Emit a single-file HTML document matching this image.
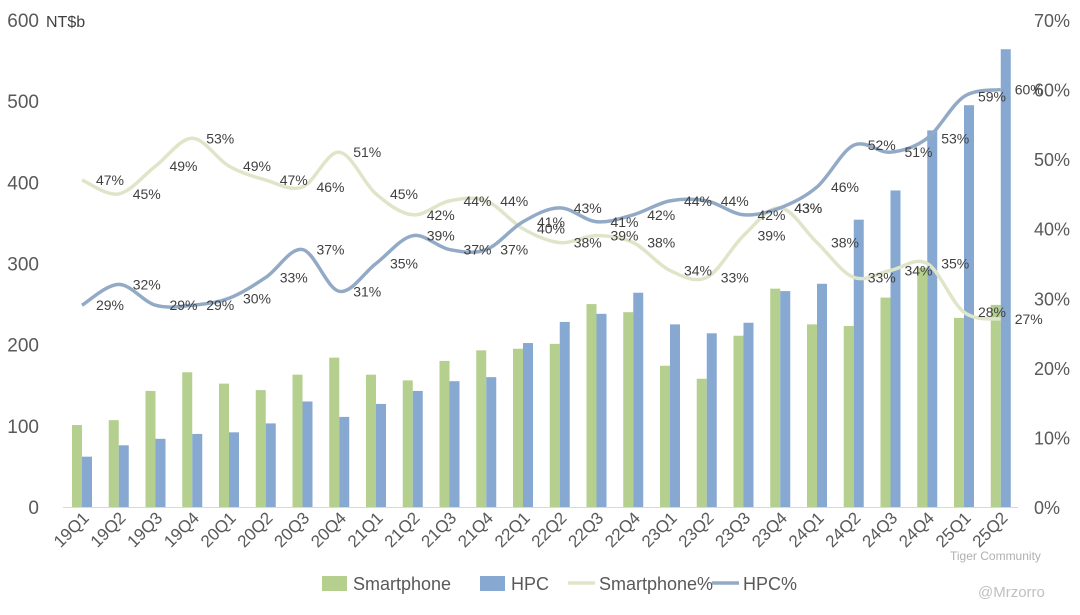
<!DOCTYPE html>
<html><head><meta charset="utf-8"><style>
body{margin:0;background:#fff;}
svg{display:block;font-family:"Liberation Sans",sans-serif;}
</style></head><body>
<svg id="chart" width="1080" height="615"></svg>
<script>
const categories=["19Q1","19Q2","19Q3","19Q4","20Q1","20Q2","20Q3","20Q4","21Q1","21Q2","21Q3","21Q4","22Q1","22Q2","22Q3","22Q4","23Q1","23Q2","23Q3","23Q4","24Q1","24Q2","24Q3","24Q4","25Q1","25Q2"];
const smartphone=[101,107,143,166,152,144,163,184,163,156,180,193,195,201,250,240,174,158,211,269,225,223,258,295,233,249];
const hpc=[62,76,84,90,92,103,130,111,127,143,155,160,202,228,238,264,225,214,227,266,275,354,390,464,495,564];
const smartphonePct=[47,45,49,53,49,47,46,51,45,42,44,44,40,38,39,38,34,33,39,43,38,33,34,35,28,27];
const hpcPct=[29,32,29,29,30,33,37,31,35,39,37,37,41,43,41,42,44,44,42,43,46,52,51,53,59,60];
const leftTicks=[0,100,200,300,400,500,600];
const rightTicks=[0,10,20,30,40,50,60,70];

const svg=document.getElementById('chart');
const NS='http://www.w3.org/2000/svg';
const y0=507,yTop=20;
const yL=v=>y0-v*(y0-yTop)/600;
const yR=v=>y0-v*(y0-yTop)/70;
const xC=i=>82+i*36.75;
function mk(tag,attrs,parent){const e=document.createElementNS(NS,tag);for(const k in attrs)e.setAttribute(k,attrs[k]);(parent||svg).appendChild(e);return e;}

let ax=mk('line',{x1:63,x2:1018,y1:y0+0.5,y2:y0+0.5,stroke:'#d9d9d9','stroke-width':1});



leftTicks.forEach(t=>{
  const e=mk('text',{x:39,y:yL(t)+7,'font-size':19,fill:'#595959','text-anchor':'end'});e.textContent=t;
  
  
});
rightTicks.forEach(t=>{
  const e=mk('text',{x:1034,y:yR(t)+7,'font-size':18,fill:'#595959'});e.textContent=t+'%';
  
  
});
let unit=mk('text',{x:46,y:27,'font-size':16,fill:'#404040'});unit.textContent='NT$b';



categories.forEach((c,i)=>{
  const x=xC(i);
  const g=mk('rect',{x:x-10,y:yL(smartphone[i]),width:10,height:y0-yL(smartphone[i]),fill:'#b4cf8e'});
  
  
  const b=mk('rect',{x:x,y:yL(hpc[i]),width:10,height:y0-yL(hpc[i]),fill:'#86a8d1'});
  
  
  const t=mk('text',{x:x+8,y:519,'font-size':17,fill:'#595959','text-anchor':'end',transform:`rotate(-45 ${x+8} 519)`});
  t.textContent=c;
  
  
});

function smooth(pts){
  let d=`M${pts[0][0]},${pts[0][1]}`;
  for(let i=0;i<pts.length-1;i++){
    const p0=pts[i-1]||pts[i],p1=pts[i],p2=pts[i+1],p3=pts[i+2]||p2;
    const c1=[p1[0]+(p2[0]-p0[0])/6,p1[1]+(p2[1]-p0[1])/6];
    const c2=[p2[0]-(p3[0]-p1[0])/6,p2[1]-(p3[1]-p1[1])/6];
    d+=` C${c1[0]},${c1[1]} ${c2[0]},${c2[1]} ${p2[0]},${p2[1]}`;
  }
  return d;
}
function series(vals,color,name){
  const pts=vals.map((v,i)=>[xC(i),yR(v)]);
  const p=mk('path',{d:smooth(pts),fill:'none',stroke:color,'stroke-width':3.5});
  
  
  vals.forEach((v,i)=>{
    const t=mk('text',{x:xC(i)+28,y:yR(v)+5,'font-size':14,fill:'#404040','text-anchor':'middle'});
    t.textContent=v+'%';
    
    
  });
}
series(smartphonePct,'#dfe5c9','smartphone-pct');
series(hpcPct,'#93aac6','hpc-pct');

const lg=mk('g',{});


const items=[['rect','#b4cf8e','Smartphone',322],['rect','#86a8d1','HPC',480],['line','#dfe5c9','Smartphone%',568],['line','#93aac6','HPC%',712]];
items.forEach(([k,c,l,x])=>{
  const ent=mk('g',{},lg);
  
  
  if(k==='rect')mk('rect',{x:x,y:576,width:25,height:15,fill:c},ent);
  else mk('line',{x1:x,x2:x+27,y1:583,y2:583,stroke:c,'stroke-width':3.5},ent);
  const t=mk('text',{x:x+31,y:590,'font-size':18,fill:'#595959'},ent);t.textContent=l;
});
let w1=mk('text',{x:950,y:560,'font-size':12,fill:'#b0b0b0'});w1.textContent='Tiger Community';


let w2=mk('text',{x:978,y:597,'font-size':15,fill:'#c0c0c0'});w2.textContent='@Mrzorro';


</script>
</body></html>
